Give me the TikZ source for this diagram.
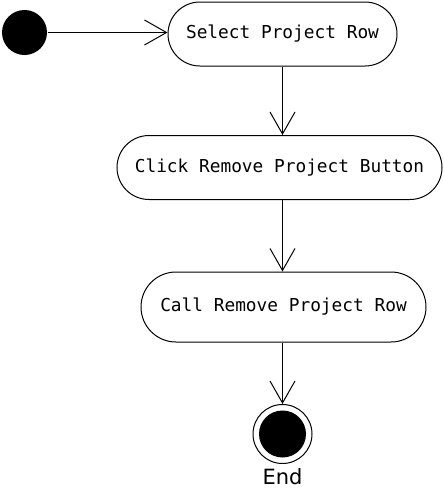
\documentclass[tikz,border=0pt]{standalone}
\usepackage{fontspec}
\setmainfont{DejaVu Sans}
\setmonofont{DejaVu Sans Mono}
\usetikzlibrary{shapes.misc, arrows.meta, positioning}

\begin{document}
\begin{tikzpicture}[x=1pt, y=-1pt, line width=1pt,
		actividad/.style={draw, rounded rectangle, minimum height=64pt, inner sep=0pt, font=\ttfamily\fontsize{17.8}{20}\selectfont},
		flujo/.style={-{Straight Barb[length=22pt, width=25pt]}}]
		\useasboundingbox (0,0) rectangle (444,491);
		% Estado inicial
		\node[circle, fill=black, minimum size=45pt, inner sep=0pt] (inicio) at (24.5,32.5) {};
		% Actividades
		\node[actividad, minimum width=229pt] (seleccionar) at (282.5,34) {Select Project Row};
		\node[actividad, minimum width=325pt] (clic) at (279.5,167.5) {Click Remove Project Button};
		\node[actividad, minimum width=285pt, minimum height=70pt] (llamar) at (283.5,307) {Call Remove Project Row};
		% Estado final
		\node[circle, draw, minimum size=59pt, inner sep=0pt] (fin) at (282.5,434) {};
		\fill (fin.center) circle (23.5pt);
		\node[below=4pt of fin, inner sep=0pt, font=\fontsize{21}{24}\selectfont] (etiqueta) {End};
		% Flujos
		\draw[flujo] (inicio.east) -- (inicio.east -| seleccionar.west);
		\draw[flujo] (seleccionar.south) -- (seleccionar.south |- clic.north);
		\draw[flujo] (seleccionar.south |- clic.south) -- (seleccionar.south |- llamar.north);
		\draw[flujo] (seleccionar.south |- llamar.south) -- (fin.north);
	\end{tikzpicture}
\end{document}
